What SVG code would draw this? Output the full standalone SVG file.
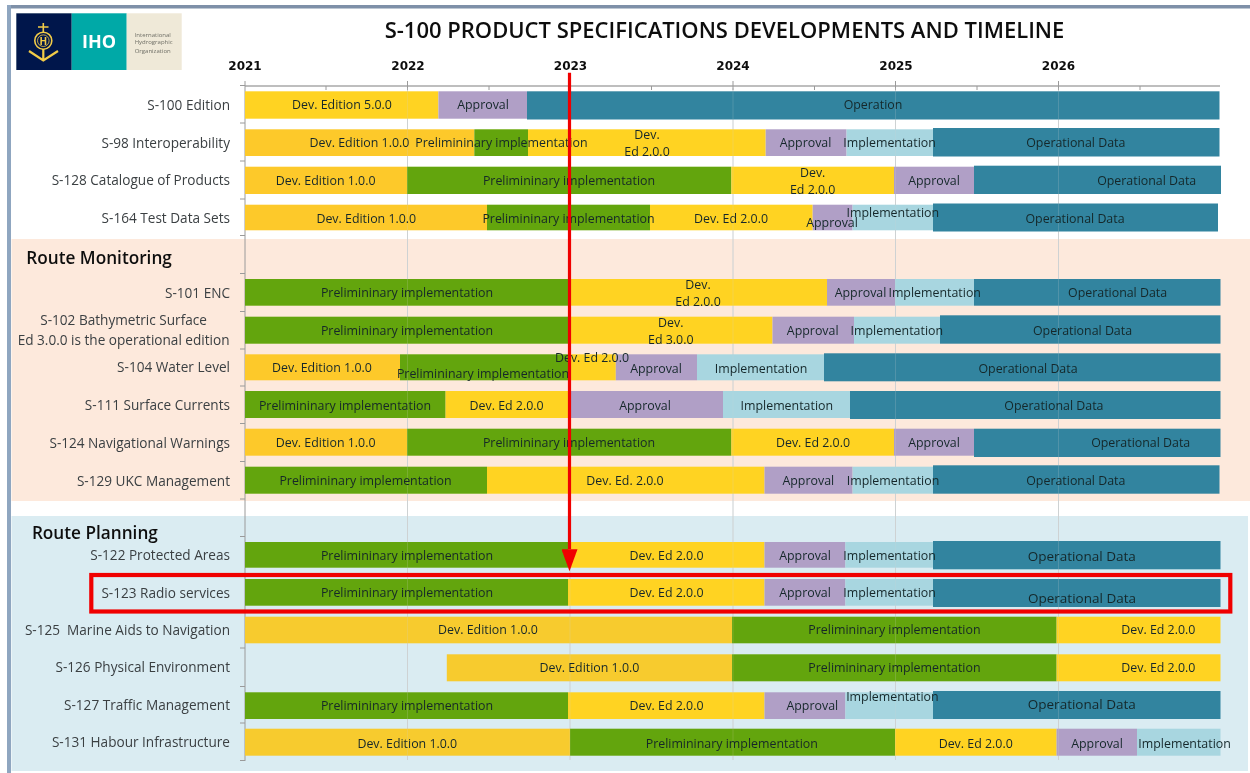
<svg xmlns="http://www.w3.org/2000/svg" width="1250" height="773" viewBox="0 0 1250 773">
<style>
text{font-family:"Open Sans","Noto Sans","Liberation Sans",sans-serif}
.o{fill:#FDC92C}.c{fill:#F7CB2F}.y{fill:#FFD324}.g{fill:#64A508}.p{fill:#B09FC6}.b{fill:#A8D6E0}.d{fill:#32849F}
.t{font-size:12.4px;fill:#15282a;text-anchor:middle;dominant-baseline:central}
.t.w{font-size:13.5px}
.l{font-size:13.6px;fill:#3a3f42;text-anchor:end;dominant-baseline:central;white-space:pre;transform:translateY(-0.7px)}
.l.m{text-anchor:middle}
.h{font-size:17.2px;font-weight:600;fill:#111;dominant-baseline:central}
.yr{font-family:"DejaVu Sans",sans-serif;font-size:12px;font-weight:700;fill:#111;text-anchor:middle}
.grid{stroke:#cfd2d4;stroke-width:1;fill:none}
.tick{stroke:#9a9a9a;stroke-width:1;fill:none}
.lg{font-size:6px;fill:#6f6f66}
</style>
<defs>
<filter id="soft" x="-2%" y="-2%" width="104%" height="104%"><feGaussianBlur stdDeviation="0.4"/></filter>
<marker id="head" markerUnits="userSpaceOnUse" viewBox="0 0 22 16" markerWidth="22" markerHeight="16" refX="0" refY="8" orient="auto"><path d="M0 0L22 8L0 16Z" fill="#F00000"/></marker>
</defs>
<rect width="1250" height="773" fill="#fff"/>
<g filter="url(#soft)">
<g id="frame">
<rect x="7" y="5" width="1243" height="3.5" fill="#7e90a8"/>
<rect x="7" y="5" width="4" height="768" fill="#8fa6c0"/>
</g>
<g id="bands">
<rect x="11.5" y="239" width="1238.5" height="262" fill="#FDE9DC"/>
<rect x="11.5" y="516" width="1236.5" height="255" fill="#DAECF2"/>
</g>
<g id="logo">
<rect x="16.3" y="13.3" width="55.4" height="56.7" fill="#03174B"/>
<rect x="71.7" y="13.3" width="55" height="56.7" fill="#00A9A7"/>
<rect x="126.7" y="13.3" width="55" height="56.7" fill="#EFE9D8"/>
<g fill="none" stroke="#F2CC47">
<circle cx="43.3" cy="40.7" r="8.5" stroke-width="1.6"/>
<circle cx="43.3" cy="40.7" r="5.8" stroke-width="0.8"/>
<path d="M43.3 23V32M38 27H48.5" stroke-width="1.6"/>
<path d="M43.3 49V59M29 51L43.3 60.5L58 51" stroke-width="2.2"/>
</g>
<text x="43.3" y="44.5" font-size="10" font-weight="700" fill="#F2CC47" text-anchor="middle">H</text>
<text x="99" y="47.8" font-size="18" font-weight="700" fill="#fff" text-anchor="middle">IHO</text>
<text class="lg" x="134.7" y="36.5">International</text>
<text class="lg" x="134.7" y="44">Hydrographic</text>
<text class="lg" x="134.7" y="52.5">Organization</text>
</g>
<text id="title" x="724.500" y="37.500" font-size="22" font-weight="600" fill="#111" text-anchor="middle">S-100 PRODUCT SPECIFICATIONS DEVELOPMENTS AND TIMELINE</text>
<g id="axis">
<text class="yr" x="245" y="70">2021</text>
<text class="yr" x="408" y="70">2022</text>
<text class="yr" x="570.500" y="70">2023</text>
<text class="yr" x="733" y="70">2024</text>
<text class="yr" x="896" y="70">2025</text>
<text class="yr" x="1058.500" y="70">2026</text>
<path class="grid" d="M407.500 88V760M570 88V760M733 88V760M895.500 88V760M1058.500 88V760"/>
<path d="M245 86H1220" stroke="#a8a8a8" stroke-width="1.6" fill="none"/>
<path class="tick" d="M245 81V761M407.500 81V90M733 81V90M895.500 81V90M1058.500 81V90M326 86V90M489 86V90M651.500 86V90M814.500 86V90M977 86V90M1140 86V90"/>
<path class="tick" d="M240 85.500H245M240 123H245M240 161H245M240 199H245M240 235.500H245M240 273.500H245M240 311.500H245M240 349H245M240 386H245M240 423.500H245M240 461.500H245M240 499H245M240 536.500H245M240 648H245M240 686.500H245M240 723H245M240 760.500H245"/>
</g>
<g id="s100">
<rect class="y" x="245" y="91.300" width="193.400" height="27.400"/><rect class="p" x="438.400" y="91.300" width="88.600" height="27.400"/><rect class="d" x="527" y="91.300" width="692.500" height="28.200"/>
</g>
<g id="s98">
<rect class="o" x="245" y="129.300" width="229.300" height="26.700"/><rect class="g" x="474.300" y="129.300" width="53.700" height="26.700"/><rect class="y" x="528" y="129.300" width="237.700" height="26.700"/><rect class="p" x="765.700" y="129.300" width="80.900" height="26.700"/><rect class="b" x="846.600" y="129.300" width="86.400" height="26.700"/><rect class="d" x="933" y="128" width="286.500" height="28.500"/>
</g>
<g id="s128">
<rect class="o" x="245" y="166.700" width="162" height="27.300"/><rect class="g" x="407" y="166.700" width="324.400" height="27.300"/><rect class="y" x="731.400" y="166.700" width="162.600" height="27.300"/><rect class="p" x="894" y="166.700" width="80" height="27.300"/><rect class="d" x="974" y="165.700" width="247" height="28.300"/>
</g>
<g id="s164">
<rect class="o" x="245" y="204.700" width="242" height="25.600"/><rect class="g" x="487" y="204.700" width="163" height="25.600"/><rect class="y" x="650" y="204.700" width="162.700" height="25.600"/><rect class="p" x="812.700" y="204.700" width="39.900" height="25.600"/><rect class="b" x="852.600" y="204.700" width="80.400" height="25.600"/><rect class="d" x="933" y="203.500" width="285" height="28"/>
</g>
<g id="s101">
<rect class="g" x="245" y="279" width="323" height="26.700"/><rect class="y" x="568" y="279" width="259" height="26.700"/><rect class="p" x="827" y="279" width="68" height="26.700"/><rect class="b" x="895" y="279" width="79" height="26.700"/><rect class="d" x="974" y="279" width="246.500" height="26.700"/>
</g>
<g id="s102">
<rect class="g" x="245" y="316.700" width="323" height="27"/><rect class="y" x="568" y="316.700" width="204.500" height="27"/><rect class="p" x="772.500" y="316.700" width="81.500" height="27"/><rect class="b" x="854" y="316.700" width="86" height="27"/><rect class="d" x="940" y="315.300" width="280.500" height="28.400"/>
</g>
<g id="s104">
<rect class="o" x="245" y="354.300" width="155" height="26"/><rect class="g" x="400" y="354.300" width="168.500" height="26"/><rect class="y" x="568.500" y="354.300" width="47.300" height="26"/><rect class="p" x="615.800" y="354.300" width="81.200" height="26"/><rect class="b" x="697" y="354.300" width="127" height="26"/><rect class="d" x="824" y="353.300" width="396.500" height="28"/>
</g>
<g id="s111">
<rect class="g" x="245" y="391" width="200.600" height="27"/><rect class="y" x="445.600" y="391" width="122.900" height="27"/><rect class="p" x="568.500" y="391" width="154.500" height="27"/><rect class="b" x="723" y="391" width="127" height="27"/><rect class="d" x="850" y="391" width="370.500" height="28"/>
</g>
<g id="s124">
<rect class="o" x="245" y="428.700" width="162" height="27"/><rect class="g" x="407" y="428.700" width="324.400" height="27"/><rect class="y" x="731.400" y="428.700" width="162.600" height="27"/><rect class="p" x="894" y="428.700" width="80" height="27"/><rect class="d" x="974" y="428.700" width="246.500" height="28.300"/>
</g>
<g id="s129">
<rect class="g" x="245" y="466.700" width="242" height="27"/><rect class="y" x="487" y="466.700" width="277.500" height="27"/><rect class="p" x="764.500" y="466.700" width="88.100" height="27"/><rect class="b" x="852.600" y="466.700" width="80.400" height="27"/><rect class="d" x="933" y="465.300" width="286.500" height="28.400"/>
</g>
<g id="s122">
<rect class="g" x="245" y="542" width="323" height="25.700"/><rect class="y" x="568" y="542" width="196.500" height="25.700"/><rect class="p" x="764.500" y="542" width="80.900" height="25.700"/><rect class="b" x="845.400" y="542" width="87.600" height="25.700"/><rect class="d" x="933" y="541" width="287.500" height="28.300"/>
</g>
<g id="s123">
<rect class="g" x="245" y="579" width="323" height="26.700"/><rect class="y" x="568" y="579" width="196.500" height="26.700"/><rect class="p" x="764.500" y="579" width="80.900" height="26.700"/><rect class="b" x="845.400" y="579" width="87.600" height="26.700"/><rect class="d" x="933" y="579" width="287.500" height="28"/>
</g>
<g id="s125">
<rect class="c" x="245" y="616.700" width="487" height="26.600"/><rect class="g" x="732" y="616.700" width="324.600" height="26.600"/><rect class="y" x="1056.600" y="616.700" width="163.900" height="26.600"/>
</g>
<g id="s126">
<rect class="c" x="446.800" y="654.300" width="285.200" height="27"/><rect class="g" x="732" y="654.300" width="324.600" height="27"/><rect class="y" x="1056.600" y="654.300" width="163.900" height="27"/>
</g>
<g id="s127">
<rect class="g" x="245" y="692.300" width="323" height="26.700"/><rect class="y" x="568" y="692.300" width="196.500" height="26.700"/><rect class="p" x="764.500" y="692.300" width="80.900" height="26.700"/><rect class="b" x="845.400" y="692.300" width="87.600" height="26.700"/><rect class="d" x="933" y="691" width="287.500" height="28"/>
</g>
<g id="s131">
<rect class="c" x="245" y="728.700" width="325" height="27"/><rect class="g" x="570" y="728.700" width="325" height="27"/><rect class="y" x="895" y="728.700" width="161.600" height="27"/><rect class="p" x="1056.600" y="728.700" width="80.400" height="27"/><rect class="b" x="1137" y="728.700" width="83.500" height="27"/>
</g>
<path class="grid" opacity="0.2" d="M407.500 88V760M570 88V760M733 88V760M895.500 88V760M1058.500 88V760"/>
<g id="labels">
<text class="h" x="26.300" y="257.300">Route Monitoring</text>
<text class="h" x="31.900" y="532.300">Route Planning</text>
<text class="l" x="230" y="105">S-100 Edition</text>
<text class="t" x="342" y="104.700">Dev. Edition 5.0.0</text><text class="t" x="483" y="104.700">Approval</text><text class="t" x="873" y="104.700">Operation</text>
<text class="l" x="230" y="143">S-98 Interoperability</text>
<text class="t" x="359.500" y="142.700">Dev. Edition 1.0.0</text><text class="t" x="501.400" y="142.700">Prelimininary implementation</text><text class="t" x="647" y="134.300">Dev.</text><text class="t" x="647" y="151.500">Ed 2.0.0</text><text class="t" x="805.500" y="142.700">Approval</text><text class="t" x="889.600" y="142.700">Implementation</text><text class="t" x="1075.800" y="142.700">Operational Data</text>
<text class="l" x="230" y="180">S-128 Catalogue of Products</text>
<text class="t" x="325.600" y="180">Dev. Edition 1.0.0</text><text class="t" x="569" y="180">Prelimininary implementation</text><text class="t" x="812.700" y="172">Dev.</text><text class="t" x="812.700" y="189.300">Ed 2.0.0</text><text class="t" x="934" y="180">Approval</text><text class="t" x="1146.700" y="180">Operational Data</text>
<text class="l" x="230" y="218">S-164 Test Data Sets</text>
<text class="t" x="366.300" y="218">Dev. Edition 1.0.0</text><text class="t" x="568.500" y="218">Prelimininary implementation</text><text class="t" x="731" y="218">Dev. Ed 2.0.0</text><text class="t" x="832" y="222">Approval</text><text class="t" x="892.800" y="212">Implementation</text><text class="t" x="1075" y="218">Operational Data</text>
<text class="l" x="230" y="293">S-101 ENC</text>
<text class="t" x="407" y="292.300">Prelimininary implementation</text><text class="t" x="698" y="284.300">Dev.</text><text class="t" x="698" y="301.700">Ed 2.0.0</text><text class="t" x="860.500" y="292.300">Approval</text><text class="t" x="934.700" y="292.300">Implementation</text><text class="t" x="1117.600" y="292.300">Operational Data</text>
<text class="l m" x="123.600" y="320.700">S-102 Bathymetric Surface</text><text class="l m" x="123.600" y="340.700">Ed 3.0.0 is the operational edition</text>
<text class="t" x="407" y="330">Prelimininary implementation</text><text class="t" x="670.800" y="322">Dev.</text><text class="t" x="670.800" y="339.300">Ed 3.0.0</text><text class="t" x="812.700" y="330">Approval</text><text class="t" x="896.800" y="330">Implementation</text><text class="t" x="1082.500" y="330">Operational Data</text>
<text class="l" x="230" y="367.700">S-104 Water Level</text>
<text class="t" x="322" y="367.700">Dev. Edition 1.0.0</text><text class="t" x="483" y="373.700">Prelimininary implementation</text><text class="t" x="592" y="357.300">Dev. Ed 2.0.0</text><text class="t" x="656" y="368">Approval</text><text class="t" x="761" y="368">Implementation</text><text class="t" x="1028" y="368">Operational Data</text>
<text class="l" x="230" y="405.500">S-111 Surface Currents</text>
<text class="t" x="345" y="405.300">Prelimininary implementation</text><text class="t" x="506.600" y="405.300">Dev. Ed 2.0.0</text><text class="t" x="645" y="405.300">Approval</text><text class="t" x="786.800" y="405.300">Implementation</text><text class="t" x="1053.900" y="405.300">Operational Data</text>
<text class="l" x="230" y="443">S-124 Navigational Warnings</text>
<text class="t" x="325.600" y="442">Dev. Edition 1.0.0</text><text class="t" x="569" y="442">Prelimininary implementation</text><text class="t" x="813" y="442">Dev. Ed 2.0.0</text><text class="t" x="934" y="442">Approval</text><text class="t" x="1140.700" y="442">Operational Data</text>
<text class="l" x="230" y="481">S-129 UKC Management</text>
<text class="t" x="365.500" y="480">Prelimininary implementation</text><text class="t" x="625" y="480">Dev. Ed. 2.0.0</text><text class="t" x="808.300" y="480">Approval</text><text class="t" x="893" y="480">Implementation</text><text class="t" x="1075.800" y="480">Operational Data</text>
<text class="l" x="230" y="555.300">S-122 Protected Areas</text>
<text class="t" x="407" y="555.300">Prelimininary implementation</text><text class="t" x="666.500" y="555.300">Dev. Ed 2.0.0</text><text class="t" x="805" y="555.300">Approval</text><text class="t" x="889.600" y="555.300">Implementation</text><text class="t w" x="1081.800" y="556.300">Operational Data</text>
<text class="l" x="230" y="593">S-123 Radio services</text>
<text class="t" x="407" y="592">Prelimininary implementation</text><text class="t" x="666.500" y="592">Dev. Ed 2.0.0</text><text class="t" x="805" y="592">Approval</text><text class="t" x="889.600" y="592">Implementation</text><text class="t w" x="1082" y="597.700">Operational Data</text>
<text class="l" x="230" y="630.700">S-125  Marine Aids to Navigation</text>
<text class="t" x="488" y="629.700">Dev. Edition 1.0.0</text><text class="t" x="894.400" y="629.700">Prelimininary implementation</text><text class="t" x="1158.300" y="629.700">Dev. Ed 2.0.0</text>
<text class="l" x="230" y="667">S-126 Physical Environment</text>
<text class="t" x="589.500" y="667.300">Dev. Edition 1.0.0</text><text class="t" x="894.400" y="667.300">Prelimininary implementation</text><text class="t" x="1158.300" y="667.300">Dev. Ed 2.0.0</text>
<text class="l" x="230" y="705">S-127 Traffic Management</text>
<text class="t" x="407" y="705">Prelimininary implementation</text><text class="t" x="666.500" y="705">Dev. Ed 2.0.0</text><text class="t" x="812.300" y="705.300">Approval</text><text class="t" x="892.400" y="696">Implementation</text><text class="t w" x="1081.800" y="704">Operational Data</text>
<text class="l" x="230" y="742.700">S-131 Habour Infrastructure</text>
<text class="t" x="407.300" y="743">Dev. Edition 1.0.0</text><text class="t" x="731.800" y="743">Prelimininary implementation</text><text class="t" x="975.700" y="743">Dev. Ed 2.0.0</text><text class="t" x="1097" y="743">Approval</text><text class="t" x="1184.600" y="743">Implementation</text>
</g>
<g id="connectors">
<path d="M569.500 72.700V549.300" stroke="#F00000" stroke-width="3.200" fill="none" marker-end="url(#head)"/>
<rect x="91.300" y="575" width="1139" height="36.500" fill="none" stroke="#F00000" stroke-width="4.200"/>
</g>
</g>
</svg>
